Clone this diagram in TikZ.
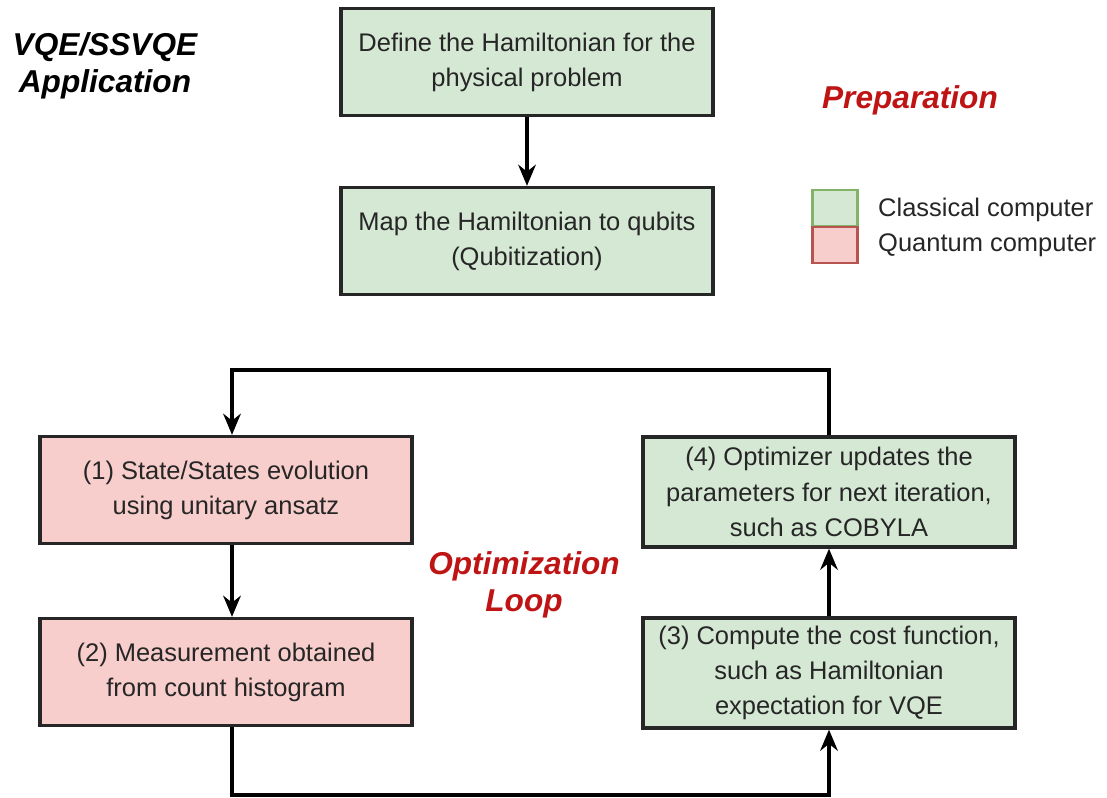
\documentclass[tikz,border=0pt]{standalone}
\usepackage{fontspec}
\setmainfont{Liberation Sans}
\usepackage{tikz}
\usetikzlibrary{arrows.meta}

\definecolor{classic}{HTML}{D5E8D4}
\definecolor{quantum}{HTML}{F8CECC}
\definecolor{classicline}{HTML}{82B366}
\definecolor{quantumline}{HTML}{B85450}
\definecolor{headred}{RGB}{190,20,20}

\begin{document}
\begin{tikzpicture}[x=0.02cm, y=-0.02cm,
    stepbox/.style={draw=black!85, line width=1.9pt, minimum width=7.44cm, minimum height=2.14cm,
        align=center, font=\fontsize{14.5}{20}\selectfont, text=black!85},
    cbox/.style={stepbox, fill=classic},
    qbox/.style={stepbox, fill=quantum},
    heading/.style={font=\fontsize{18}{21}\selectfont\bfseries\itshape, align=center},
    flow/.style={line width=2pt, -{Stealth[length=12pt, width=10pt]}}]
    \useasboundingbox (0,0) rectangle (1107,798);

    % Title and section headings
    \node[heading] (title) at (105,66) {VQE/SSVQE\\Application};
    \node[heading, text=headred] (prep) at (910,100) {Preparation};
    \node[heading, text=headred] (optloop) at (524,585) {Optimization\\Loop};

    % Preparation steps
    \node[cbox] (define) at (527,62) {Define the Hamiltonian for the\\physical problem};
    \node[cbox] (map) at (527,241) {Map the Hamiltonian to qubits\\(Qubitization)};
    \draw[flow] (define) -- (map);

    % Legend
    \node[draw=classicline, fill=classic, line width=1.4pt, minimum width=0.9cm, minimum height=0.72cm] (legc) at (835,208) {};
    \node[draw=quantumline, fill=quantum, line width=1.4pt, minimum width=0.9cm, minimum height=0.72cm] (legq) at (835,245) {};
    \node[anchor=west, font=\fontsize{14.5}{17}\selectfont, text=black!85] (legctext) at (872,210) {Classical computer};
    \node[anchor=west, font=\fontsize{14.5}{17}\selectfont, text=black!85] (legqtext) at (872,245) {Quantum computer};

    % Optimization loop
    \node[qbox] (evol) at (226,490) {(1) State/States evolution\\using unitary ansatz};
    \node[qbox] (meas) at (226,672) {(2) Measurement obtained\\from count histogram};
    \node[cbox, minimum height=2.2cm] (cost) at (829,673) {(3) Compute the cost function,\\such as Hamiltonian\\expectation for VQE};
    \node[cbox, minimum height=2.2cm] (optim) at (829,492) {(4) Optimizer updates the\\parameters for next iteration,\\such as COBYLA};

    \coordinate (topleft) at (232,370);
    \coordinate (topright) at (829,370);
    \coordinate (botleft) at (232,795);
    \coordinate (botright) at (829,795);

    \draw[flow] (evol.south -| topleft) -- (meas.north -| topleft);
    \draw[flow] (meas.south -| botleft) -- (botleft) -- (botright) -- (cost.south);
    \draw[flow] (cost) -- (optim);
    \draw[flow] (optim.north) -- (topright) -- (topleft) -- (evol.north -| topleft);
\end{tikzpicture}
\end{document}
